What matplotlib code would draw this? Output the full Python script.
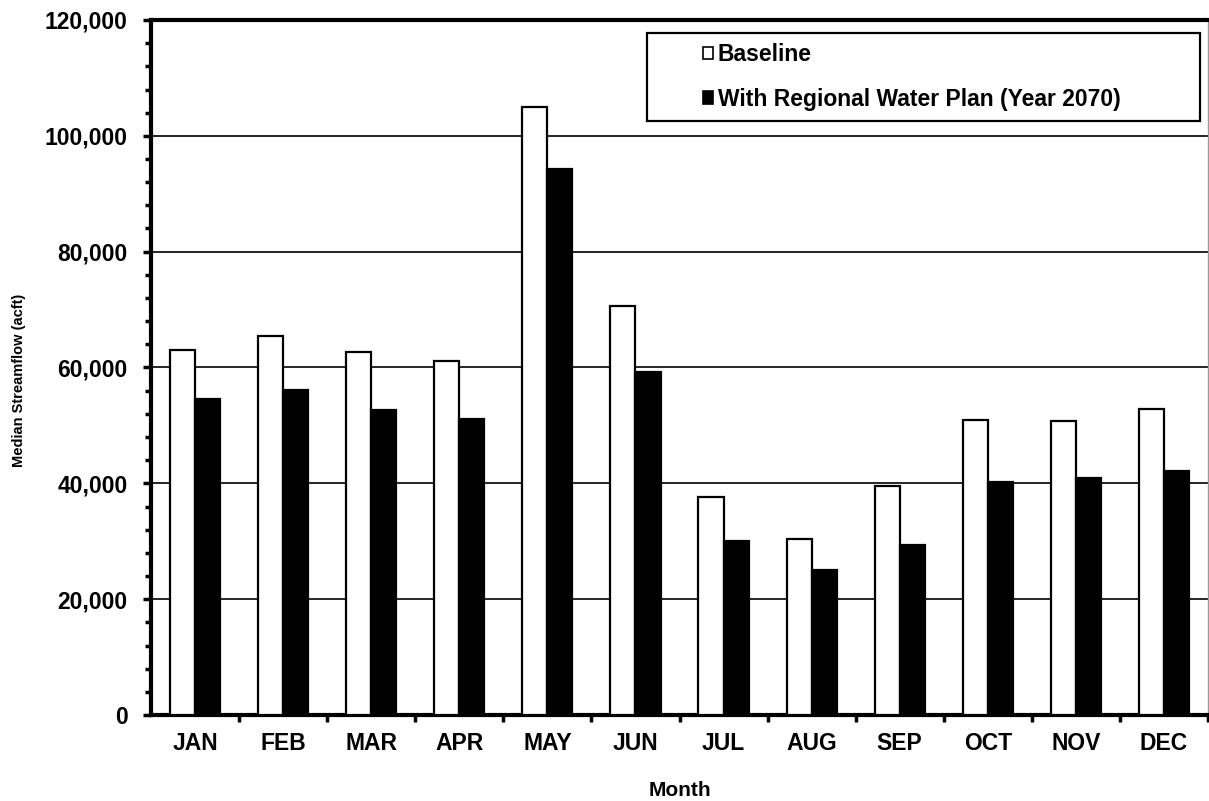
import matplotlib.pyplot as plt
import numpy as np
from matplotlib.ticker import MultipleLocator, FuncFormatter
from matplotlib.patches import Rectangle

plt.rcParams['font.family'] = ['Liberation Sans', 'DejaVu Sans']

months = ['JAN', 'FEB', 'MAR', 'APR', 'MAY', 'JUN', 'JUL', 'AUG', 'SEP', 'OCT', 'NOV', 'DEC']
baseline = [63100, 65500, 62700, 61100, 105000, 70600, 37600, 30400, 39500, 50900, 50800, 52800]
with_plan = [54600, 56100, 52700, 51100, 94300, 59200, 30000, 25000, 29400, 40300, 40900, 42200]

W, H = 1209, 801
fig = plt.figure(figsize=(W / 100, H / 100), dpi=100)
ax = fig.add_axes([151 / W, 1 - 715 / H, (1208 - 151) / W, (715 - 20) / H])

x = np.arange(len(months))
w = 0.285
ax.bar(x - w / 2, baseline, w, color='white', edgecolor='black', linewidth=1.6,
       label='Baseline', zorder=3)
ax.bar(x + w / 2, with_plan, w, color='black', edgecolor='black', linewidth=1.6,
       label='With Regional Water Plan (Year 2070)', zorder=3)

ax.set_xlim(-0.5, len(months) - 0.5)
ax.set_ylim(0, 120000)
ax.yaxis.set_major_locator(MultipleLocator(20000))
ax.yaxis.set_minor_locator(MultipleLocator(4000))
ax.yaxis.set_major_formatter(FuncFormatter(lambda v, p: f'{int(v):,}'))
ax.grid(axis='y', color='black', linewidth=1.2, zorder=0)

# month labels centred, tick marks between months
ax.set_xticks(x)
ax.set_xticklabels(months, fontsize=16.5, fontweight='bold')
ax.tick_params(axis='x', which='major', length=0, pad=12)
ax.set_xticks(np.arange(len(months)) + 0.5, minor=True)
ax.tick_params(axis='x', which='minor', length=5, width=2.5, direction='out')
ax.tick_params(axis='y', which='major', length=6, width=2.5, labelsize=16.5, pad=11)
ax.tick_params(axis='y', which='minor', length=4, width=2.5)
for lab in ax.get_yticklabels():
    lab.set_fontweight('bold')

for s in ['left', 'bottom', 'top']:
    ax.spines[s].set_linewidth(3)
ax.spines['right'].set_color('#999999')
ax.spines['right'].set_linewidth(1)

ax.set_ylabel('Median Streamflow (acft)', fontsize=10.5, fontweight='bold')
ax.yaxis.set_label_coords(-0.118, 0.482)
ax.set_xlabel('Month', fontsize=15, fontweight='bold', labelpad=19)

# legend box drawn by hand, entries placed inside it
box = Rectangle((647 / W, 1 - 121 / H), (1200 - 647) / W, (121 - 33) / H,
                transform=fig.transFigure, facecolor='white', edgecolor='black',
                linewidth=1.6, zorder=5, clip_on=False)
ax.add_patch(box)
leg = ax.legend(loc='upper left', bbox_to_anchor=(703 / W, 1 - 43 / H),
                bbox_transform=fig.transFigure, frameon=False,
                prop={'weight': 'bold', 'size': 16.5}, handlelength=0.45,
                handleheight=0.45, handletextpad=0.2, borderpad=0,
                labelspacing=0.95, borderaxespad=0)
leg.set_zorder(6)
for h in leg.legend_handles:
    h.set_linewidth(1.2)

fig.savefig('out.png', dpi=100)
